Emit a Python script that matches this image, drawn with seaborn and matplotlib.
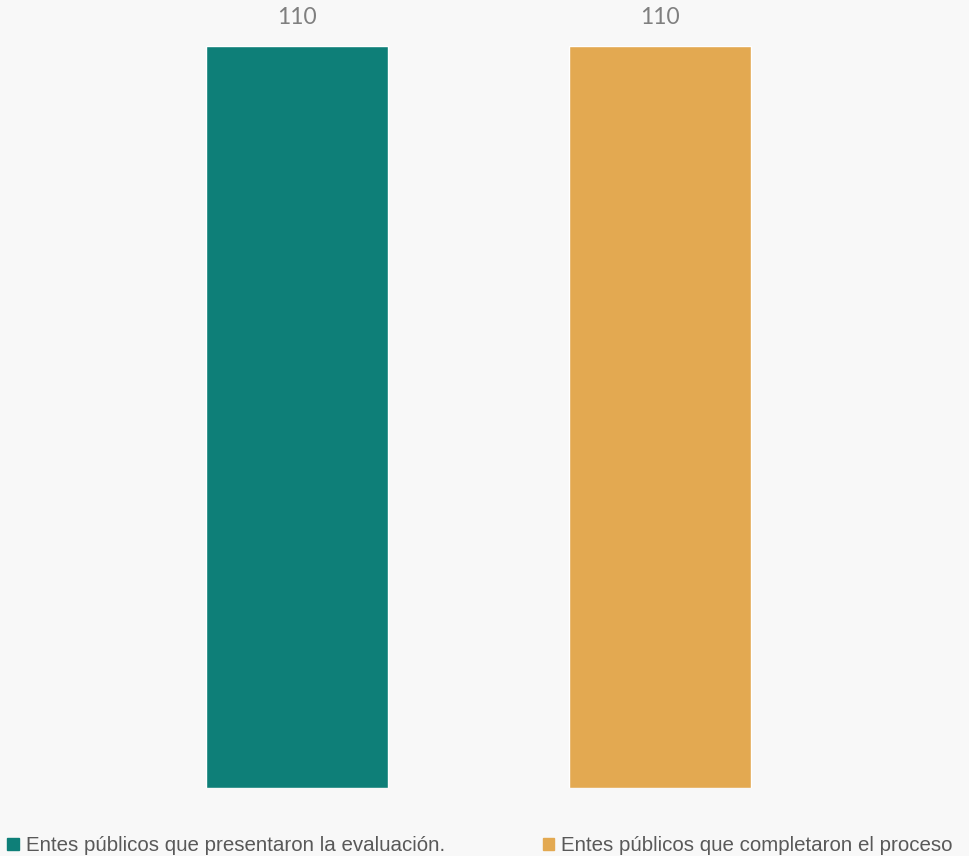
import matplotlib
matplotlib.use('Agg')
import matplotlib.pyplot as plt
import seaborn as sns
import pandas as pd

sns.set_theme(style='white')
plt.rcParams['font.family'] = ['Liberation Sans', 'DejaVu Sans']

categories = ['Entes públicos que presentaron la evaluación.',
              'Entes públicos que completaron el proceso']
values = [110, 110]
colors = ['#0e7f78', '#e3a951']

df = pd.DataFrame({'cat': categories, 'val': values})

fig = plt.figure(figsize=(9.69, 8.56), dpi=100)
fig.patch.set_facecolor('#f8f8f8')
ax = fig.add_axes([115.5 / 969, 68 / 856, 726 / 969, 742 / 856])
ax.set_facecolor('#f8f8f8')

sns.barplot(data=df, x='cat', y='val', hue='cat', palette=colors, width=0.5,
            saturation=1, legend=False, ax=ax)
ax.set_xlim(-0.5, 1.5)
ax.set_ylim(0, 110)

for i, v in enumerate(values):
    ax.annotate(str(v), (i, v), xytext=(0, 13), textcoords='offset points',
                ha='center', va='bottom', fontsize=16.5, color='#7f7f7f',
                family=['Lato', 'DejaVu Sans'], annotation_clip=False)

ax.set_xticks([])
ax.set_yticks([])
ax.set_xlabel('')
ax.set_ylabel('')
for s in ax.spines.values():
    s.set_visible(False)

handles = [plt.Rectangle((0, 0), 1, 1, color=c) for c in colors]
fig.legend(handles, categories, loc='lower left', bbox_to_anchor=(-0.0115, -0.021),
           ncol=2, frameon=False, fontsize=14.8, handlelength=0.55, handleheight=0.55,
           handletextpad=0.35, columnspacing=4.75, labelcolor='#595959')

fig.savefig('out.png', dpi=100, facecolor=fig.get_facecolor())
